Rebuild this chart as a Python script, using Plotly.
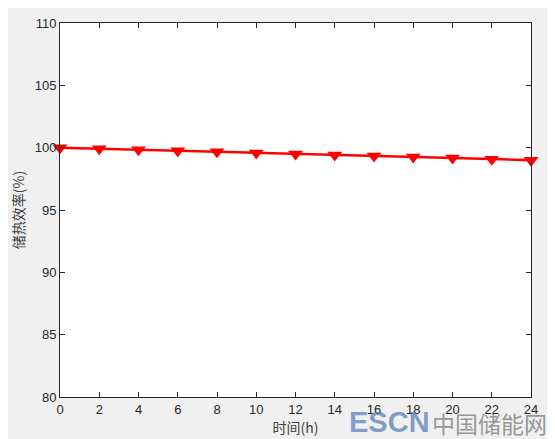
import plotly.graph_objects as go

# ─── Data ─────────────────────────────────────────────────────
hours = [0, 2, 4, 6, 8, 10, 12, 14, 16, 18, 20, 22, 24]
efficiency = [100.0, 99.92, 99.83, 99.75, 99.67, 99.58, 99.5,
              99.42, 99.33, 99.25, 99.17, 99.08, 99.0]
x_ticks = [0, 2, 4, 6, 8, 10, 12, 14, 16, 18, 20, 22, 24]
y_ticks = [80, 85, 90, 95, 100, 105, 110]

_AXIS = "#262626"
_FONT = "Liberation Sans, Arial, sans-serif"
_CJK = "Noto Sans CJK SC"

fig = go.Figure()
fig.add_trace(go.Scatter(
    x=hours, y=efficiency,
    mode="lines+markers",
    line=dict(color="#ff0000", width=2.5),
    marker=dict(symbol="triangle-down", size=13, color="#ff0000"),
    showlegend=False,
    cliponaxis=False,
))

axis_common = dict(
    showline=True, linecolor=_AXIS, linewidth=1, mirror="ticks",
    ticks="inside", ticklen=5, tickcolor=_AXIS,
    showgrid=False, zeroline=False, automargin=False,
    tickfont=dict(family=_FONT, size=13, color=_AXIS),
)

fig.update_xaxes(
    range=[0, 24], tickvals=x_ticks,
    title=dict(text="时间(h)", font=dict(family=_CJK, size=14, color="#404040"), standoff=7),
    **axis_common,
)
fig.update_yaxes(
    range=[80, 110], tickvals=y_ticks,
    title=dict(text="储热效率(%)", font=dict(family=_CJK, size=14, color="#404040"), standoff=10),
    **axis_common,
)

# watermark (bottom right)
fig.add_annotation(
    text="<b>ESCN</b>", xref="paper", yref="paper", x=0.61, y=-0.02,
    xanchor="left", yanchor="top", showarrow=False,
    font=dict(family="Liberation Sans", size=29, color="rgba(80,120,180,0.7)"),
)
fig.add_annotation(
    text="中国储能网", xref="paper", yref="paper", x=0.785, y=-0.02,
    xanchor="left", yanchor="top", showarrow=False,
    font=dict(family=_CJK, size=23, color="rgba(110,110,110,0.7)"),
)

# page body has an 8px margin, so the figure is sized to fit the window
fig.update_layout(
    width=547, height=431,
    paper_bgcolor="#f0f0f0", plot_bgcolor="#ffffff",
    margin=dict(l=52, r=24, t=15, b=42),
    font=dict(family=_FONT, color=_AXIS),
)

fig.write_html("out.html")
